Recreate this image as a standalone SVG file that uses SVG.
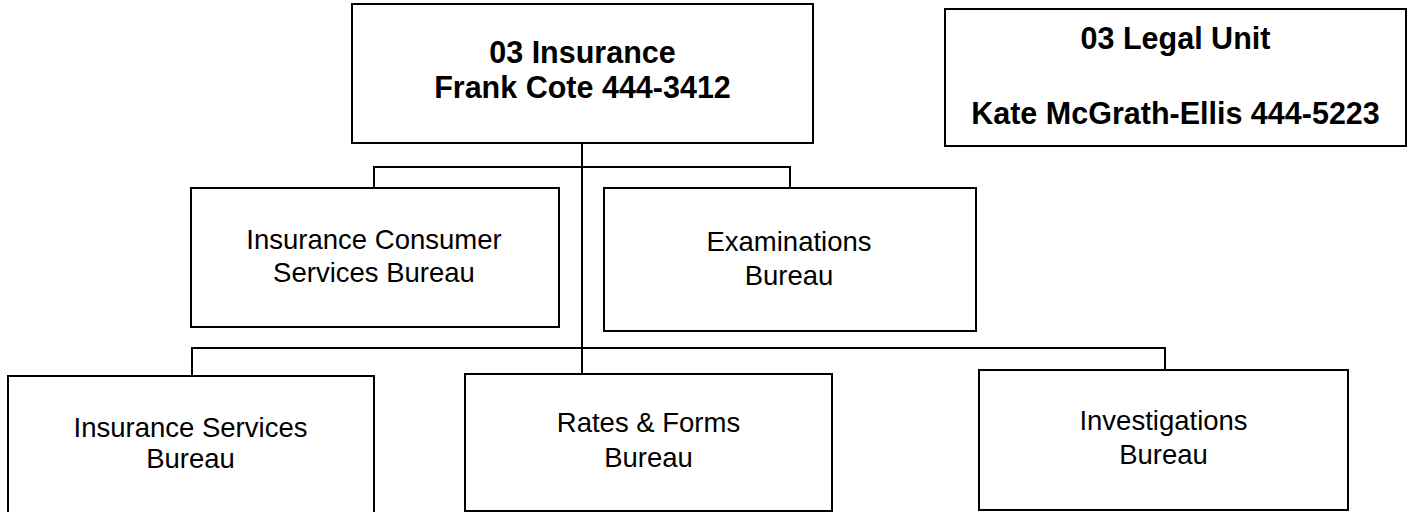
<svg xmlns="http://www.w3.org/2000/svg" width="1415" height="512" viewBox="0 0 1415 512">
<style>
.box{fill:#fff;stroke:#000;stroke-width:2}
.ln{fill:none;stroke:#000;stroke-width:2}
.b{font-family:"Liberation Sans",Arial,sans-serif;font-weight:bold;font-size:30.5px;text-anchor:middle;fill:#000}
.r{font-family:"Liberation Sans",Arial,sans-serif;font-size:27.5px;text-anchor:middle;fill:#000}
</style>
<rect width="1415" height="512" fill="#fff"/>
<g id="connectors">
<path class="ln" d="M582 143V374"/>
<path class="ln" d="M374 188V167H790V188"/>
<path class="ln" d="M192 376V348H1165V370"/>
</g>
<g id="n-insurance">
<rect class="box" x="352" y="4" width="461" height="139"/>
<text class="b" x="582.5" y="63">03 Insurance</text>
<text class="b" x="582.5" y="98">Frank Cote 444-3412</text>
</g>
<g id="n-legal">
<rect class="box" x="945" y="9" width="461" height="137"/>
<text class="b" x="1175.5" y="49">03 Legal Unit</text>
<text class="b" x="1175.5" y="124">Kate McGrath-Ellis 444-5223</text>
</g>
<g id="n-consumer">
<rect class="box" x="191" y="188" width="368" height="139"/>
<text class="r" x="374" y="249">Insurance Consumer</text>
<text class="r" x="374" y="282">Services Bureau</text>
</g>
<g id="n-exam">
<rect class="box" x="604" y="188" width="372" height="143"/>
<text class="r" x="789" y="251">Examinations</text>
<text class="r" x="789" y="285">Bureau</text>
</g>
<g id="n-services">
<rect class="box" x="8" y="376" width="366" height="140"/>
<text class="r" x="190.5" y="437">Insurance Services</text>
<text class="r" x="190.5" y="468">Bureau</text>
</g>
<g id="n-rates">
<rect class="box" x="465" y="374" width="367" height="137"/>
<text class="r" x="648.5" y="432">Rates &amp; Forms</text>
<text class="r" x="648.5" y="467">Bureau</text>
</g>
<g id="n-invest">
<rect class="box" x="979" y="370" width="369" height="140"/>
<text class="r" x="1163.5" y="430">Investigations</text>
<text class="r" x="1163.5" y="464">Bureau</text>
</g>
</svg>
